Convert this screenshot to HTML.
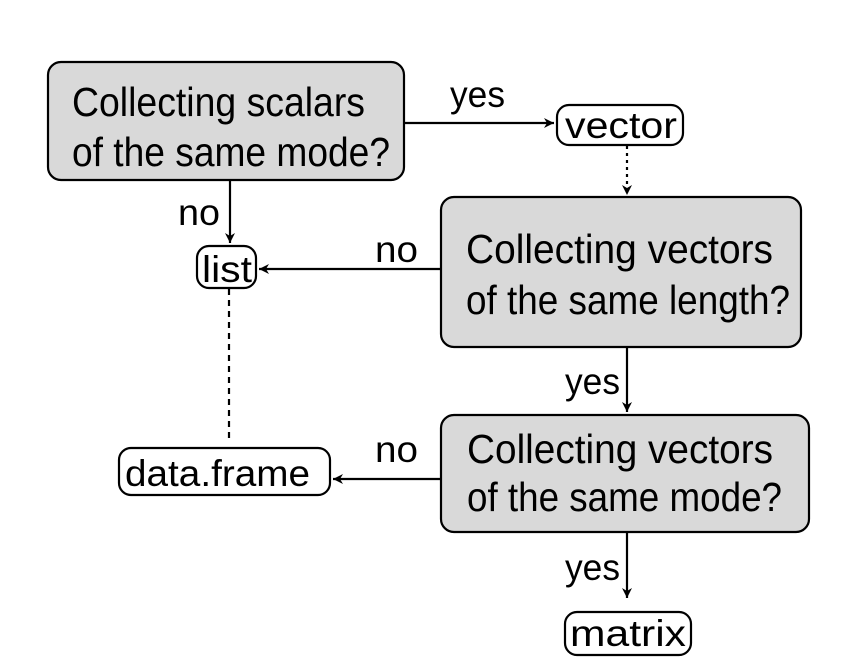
<!DOCTYPE html>
<html><head><meta charset="utf-8"><style>html,body{margin:0;padding:0;background:#fff;}svg{display:block}</style></head>
<body>
<svg width="860" height="672" viewBox="0 0 860 672" xmlns="http://www.w3.org/2000/svg" font-family="Liberation Sans, sans-serif" fill="#000">
<defs>
<marker id="a" markerWidth="12" markerHeight="10" refX="10" refY="5" orient="auto" markerUnits="userSpaceOnUse">
<path d="M0,0 L10,5 L0,10 L3,5 Z" fill="#000"/>
</marker>
</defs>
<g stroke="#000" stroke-width="2.2">
<rect x="48" y="62" width="356" height="118" rx="13" fill="#d9d9d9"/>
<rect x="441" y="197" width="360" height="150" rx="13" fill="#d9d9d9"/>
<rect x="441" y="415" width="368" height="117" rx="13" fill="#d9d9d9"/>
<rect x="557" y="105" width="126" height="40" rx="12" fill="#fff"/>
<rect x="197" y="246" width="59" height="42" rx="12" fill="#fff"/>
<rect x="119" y="448" width="211" height="47" rx="12" fill="#fff"/>
<rect x="565" y="612" width="126" height="43" rx="12" fill="#fff"/>
<line x1="404" y1="123" x2="554" y2="123" marker-end="url(#a)"/>
<line x1="627" y1="146" x2="627" y2="195" stroke-dasharray="3,4" marker-end="url(#a)"/>
<line x1="230" y1="180" x2="230" y2="243" marker-end="url(#a)"/>
<line x1="441" y1="269" x2="259" y2="269" marker-end="url(#a)"/>
<line x1="229" y1="289" x2="229" y2="440" stroke-dasharray="6,5"/>
<line x1="627" y1="347" x2="627" y2="412" marker-end="url(#a)"/>
<line x1="441" y1="479" x2="333" y2="479" marker-end="url(#a)"/>
<line x1="627" y1="533" x2="627" y2="598" marker-end="url(#a)"/>
</g>
<g font-size="41">
<text x="72" y="116" textLength="293" lengthAdjust="spacingAndGlyphs">Collecting scalars</text>
<text x="72" y="166" textLength="318" lengthAdjust="spacingAndGlyphs">of the same mode?</text>
<text x="466" y="263" textLength="307" lengthAdjust="spacingAndGlyphs">Collecting vectors</text>
<text x="466" y="314" textLength="324" lengthAdjust="spacingAndGlyphs">of the same length?</text>
<text x="467" y="463" textLength="306" lengthAdjust="spacingAndGlyphs">Collecting vectors</text>
<text x="467" y="511" textLength="315" lengthAdjust="spacingAndGlyphs">of the same mode?</text>
</g>
<g font-size="37">
<text x="565" y="138" textLength="112" lengthAdjust="spacingAndGlyphs">vector</text>
<text x="202" y="282" textLength="50" lengthAdjust="spacingAndGlyphs">list</text>
<text x="125" y="486" textLength="185" lengthAdjust="spacingAndGlyphs">data.frame</text>
<text x="570" y="646" textLength="116" lengthAdjust="spacingAndGlyphs">matrix</text>
<text x="450" y="107" textLength="55" lengthAdjust="spacingAndGlyphs">yes</text>
<text x="178" y="225" textLength="42" lengthAdjust="spacingAndGlyphs">no</text>
<text x="375" y="262" textLength="43" lengthAdjust="spacingAndGlyphs">no</text>
<text x="565" y="394" textLength="55" lengthAdjust="spacingAndGlyphs">yes</text>
<text x="375" y="462" textLength="43" lengthAdjust="spacingAndGlyphs">no</text>
<text x="565" y="580" textLength="55" lengthAdjust="spacingAndGlyphs">yes</text>
</g>
</svg>
</body></html>
